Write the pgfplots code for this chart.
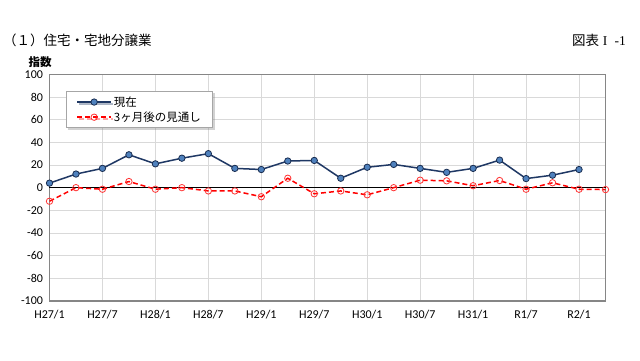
\documentclass[border=0pt]{standalone}
\usepackage{fontspec}
\setmainfont{Carlito}
\newfontfamily\cjk{Noto Sans CJK JP}
\newfontfamily\timesf{Liberation Serif}
\usepackage{pgfplots}
\pgfplotsset{compat=1.18}
\usetikzlibrary{shadows}
\definecolor{navy}{RGB}{31,56,100}
\definecolor{mblue}{RGB}{79,129,189}
\definecolor{gridc}{RGB}{217,217,217}
\definecolor{axc}{RGB}{134,134,134}
\begin{document}
\begin{tikzpicture}[x=1pt,y=1pt]
\path[fill=white,use as bounding box] (0,0) rectangle (640,360);
\node[anchor=west,inner sep=0pt,font=\cjk\fontsize{13.5}{15}\selectfont] at (3,320) {（１）住宅・宅地分譲業};
\node[anchor=east,inner sep=0pt,font=\fontsize{13.5}{15}\selectfont] at (626,320) {{\cjk 図表}\;{\timesf I\; -1}};
\node[inner sep=0pt,font=\cjk\bfseries\fontsize{11.5}{13}\selectfont] at (40,298) {指数};
\begin{axis}[
  at={(49.5pt,59pt)}, anchor=south west,
  scale only axis, width=556pt, height=226.7pt,
  xmin=0, xmax=21, ymin=-100, ymax=100,
  xtick={0,2,...,20},
  xticklabels={H27/1,H27/7,H28/1,H28/7,H29/1,H29/7,H30/1,H30/7,H31/1,R1/7,R2/1},
  ytick={-100,-80,...,100},
  extra y ticks={0}, extra y tick labels={},
  extra y tick style={grid=major, major grid style={black,line width=1.6pt}, tick style={draw=none}},
  grid=major, major grid style={gridc,line width=0.9pt},
  axis line style={axc,line width=1.4pt},
  tick style={draw=none},
  /pgf/number format/assume math mode=true,
  tick label style={font=\fontsize{12}{13}\selectfont},
  xticklabel style={yshift=-6pt},
  yticklabel style={xshift=-3pt},
  legend style={at={(0.0297,0.926)}, anchor=north west, draw=gray!70, line width=0.8pt,
    drop shadow={shadow xshift=2pt,shadow yshift=-2pt,opacity=0.35},
    font=\cjk\fontsize{11.5}{13}\selectfont, row sep=0pt, inner xsep=10pt, inner ysep=3pt,
    cells={anchor=west}},
  legend image code/.code={\draw[mark repeat=2,mark phase=2,#1,line width=1.5pt] plot coordinates {(0pt,0pt) (17pt,0pt) (34pt,0pt)};},
]
\addplot[navy, line width=1.5pt, mark=*, mark size=3.2pt, mark options={fill=mblue, draw=navy!80!black, line width=0.8pt}]
coordinates {(0,4) (1,12) (2,17) (3,29) (4,21) (5,26) (6,30) (7,17) (8,16) (9,23.5) (10,24) (11,8.3) (12,18) (13,20.5) (14,17) (15,13.5) (16,17) (17,24.3) (18,8) (19,11) (20,16)};
\addlegendentry{現在}
\addplot[red, line width=1.5pt, dash pattern=on 5pt off 3pt, mark=o, mark size=3.2pt, mark options={solid, fill=white, draw=red!80!white, line width=0.8pt}]
coordinates {(0,-12) (1,0) (2,-1.4) (3,5.4) (4,-1.4) (5,0) (6,-2.9) (7,-2.9) (8,-8) (9,8.3) (10,-5.4) (11,-2.9) (12,-6.3) (13,0) (14,6.6) (15,6) (16,1.7) (17,6.3) (18,-1.4) (19,4.3) (20,-1.4) (21,-1.7)};
\addlegendentry{3ヶ月後の見通し}
\end{axis}
\end{tikzpicture}
\end{document}
